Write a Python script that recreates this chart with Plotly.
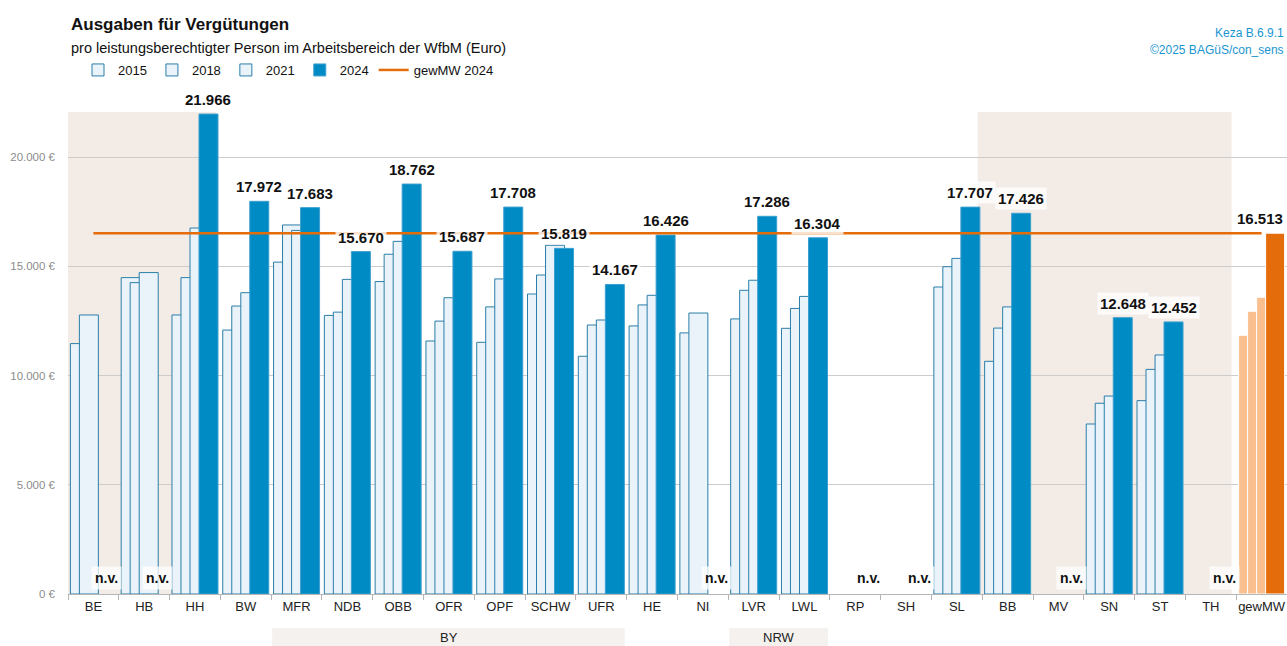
import plotly.graph_objects as go

categories = ["BE", "HB", "HH", "BW", "MFR", "NDB", "OBB", "OFR", "OPF", "SCHW", "UFR", "HE",
              "NI", "LVR", "LWL", "RP", "SH", "SL", "BB", "MV", "SN", "ST", "TH", "gewMW"]
years = ["2015", "2018", "2021", "2024"]
v2015 = [11460, 14480, 12770, 12080, 15190, 12750, 14300, 11580, 11520, 13730, 10880, 12270,
         11950, 12590, 12160, None, None, 14050, 10650, None, 7780, 8850, None, 11840]
v2018 = [12770, 14250, 14480, 13180, 16890, 12900, 15550, 12490, 13140, 14600, 12310, 13230,
         12860, 13900, 13070, None, None, 14980, 12170, None, 8730, 10280, None, 12940]
v2021 = [None, 14710, 16750, 13790, 16640, 14400, 16140, 13560, 14420, 15960, 12540, 13670,
         None, 14360, 13620, None, None, 15360, 13140, None, 9060, 10940, None, 13580]
v2024 = [None, None, 21966, 17972, 17683, 15670, 18762, 15687, 17708, 15819, 14167, 16426,
         None, 17286, 16304, None, None, 17707, 17426, None, 12648, 12452, None, 16513]
gewMW_2024 = 16513
mean_name = "gewMW 2024"
shaded_groups = [("BE", "HH"), ("BB", "TH")]
bottom_groups = [("BY", "MFR", "UFR"), ("NRW", "LVR", "LWL")]
y_ticks = [0, 5000, 10000, 15000, 20000]
y_ticktext = ["0 €", "5.000 €", "10.000 €", "15.000 €", "20.000 €"]

FONT = "Liberation Sans, Arial, sans-serif"
W, H = 1287, 646
ML, MR, MT, MB = 68, 0, 112, 52
PW, PH = W - ML - MR, H - MT - MB
YMAX = 22060
CATPX = PW / len(categories)


def px_x(p):
    return (p - ML) / PW


def px_y(p):
    return (H - MB - p) / PH


def fmt(v):
    return f"{v:,}".replace(",", ".")


PAST_FILL = "#eaf3f9"
PAST_LINE = "#2b7ea8"
CUR_FILL = "#008bc4"
CUR_LINE = "#3d9fcf"
OR_LIGHT = "#f9bf8f"
OR_DARK = "#e46c0a"

offsets = [-0.453, -0.276, -0.098, 0.079]
bw = 0.374
series = [v2015, v2018, v2021, v2024]

fig = go.Figure()
for k, (yr, vals) in enumerate(zip(years, series)):
    is_cur = k == 3
    fills, lines = [], []
    for c in categories:
        if c == "gewMW":
            fills.append(OR_DARK if is_cur else OR_LIGHT)
            lines.append("#ffffff")
        else:
            fills.append(CUR_FILL if is_cur else PAST_FILL)
            lines.append(CUR_LINE if is_cur else PAST_LINE)
    fig.add_trace(go.Bar(
        x=categories, y=vals, name=yr, offset=offsets[k], width=bw,
        marker=dict(color=fills, line=dict(color=lines, width=1)),
        hoverinfo="x+y",
    ))

fig.add_trace(go.Scatter(
    x=categories, y=[gewMW_2024] * len(categories), mode="lines", name=mean_name,
    line=dict(color=OR_DARK, width=2.5),
))

shift24 = (offsets[3] + bw / 2) * CATPX
annotations = []
for i, (c, v) in enumerate(zip(categories, v2024)):
    last = i == len(categories) - 1
    if v is not None:
        annotations.append(dict(
            x=c, y=v, xref="x", yref="y", text=f"<b>{fmt(v)}</b>", showarrow=False,
            xshift=((offsets[3] + bw) * CATPX + 1) if last else shift24,
            xanchor="right" if last else "center",
            yshift=3, yanchor="bottom",
            font=dict(family=FONT, size=15, color="#111111"),
            bgcolor="rgba(255,255,255,0.8)", borderpad=2,
        ))
    else:
        annotations.append(dict(
            x=c, y=0, xref="x", yref="y", text="<b>n.v.</b>", showarrow=False,
            xshift=shift24, yshift=4, yanchor="bottom",
            font=dict(family=FONT, size=14, color="#111111"),
            bgcolor="rgba(255,255,255,0.75)", borderpad=3,
        ))

shapes = []
for a, b in shaded_groups:
    i0, i1 = categories.index(a), categories.index(b)
    shapes.append(dict(
        type="rect", xref="x", yref="y", x0=max(-0.5, i0 - 0.59), x1=i1 + 0.41,
        y0=0, y1=YMAX, fillcolor="#f3ece6", line=dict(width=0), layer="below",
    ))
for name, a, b in bottom_groups:
    i0, i1 = categories.index(a), categories.index(b)
    shapes.append(dict(
        type="rect", xref="x", yref="paper", x0=i0 - 0.48, x1=i1 + 0.46,
        y0=px_y(H + 2), y1=px_y(628), fillcolor="#f4f1ee", line=dict(width=0), layer="below",
    ))
    annotations.append(dict(
        x=(i0 + i1) / 2, y=px_y(637), xref="x", yref="paper", text=name, showarrow=False,
        font=dict(family=FONT, size=13, color="#222222"), yanchor="middle",
    ))

annotations += [
    dict(x=px_x(69), y=px_y(25), xref="paper", yref="paper", xanchor="left", yanchor="middle",
         text="<b>Ausgaben für Vergütungen</b>", showarrow=False,
         font=dict(family=FONT, size=17, color="#111111")),
    dict(x=px_x(69), y=px_y(48), xref="paper", yref="paper", xanchor="left", yanchor="middle",
         text="pro leistungsberechtigter Person im Arbeitsbereich der WfbM (Euro)", showarrow=False,
         font=dict(family=FONT, size=14.5, color="#111111")),
    dict(x=px_x(1286), y=px_y(33), xref="paper", yref="paper", xanchor="right", yanchor="middle",
         text="Keza B.6.9.1", showarrow=False,
         font=dict(family=FONT, size=12, color="#1b95d0")),
    dict(x=px_x(1286), y=px_y(50), xref="paper", yref="paper", xanchor="right", yanchor="middle",
         text="©2025 BAGüS/con_sens", showarrow=False,
         font=dict(family=FONT, size=12, color="#1b95d0")),
]

fig.update_layout(
    width=W, height=H,
    margin=dict(l=ML, r=MR, t=MT, b=MB, autoexpand=False),
    paper_bgcolor="white", plot_bgcolor="white",
    barmode="overlay",
    font=dict(family=FONT, size=13, color="#111111"),
    showlegend=True,
    legend=dict(orientation="h", x=px_x(78), y=px_y(70), xanchor="left", yanchor="middle",
                font=dict(family=FONT, size=13, color="#111111"),
                bgcolor="rgba(0,0,0,0)", itemwidth=30, tracegroupgap=0,
                traceorder="normal"),
    xaxis=dict(type="category", range=[-0.5, len(categories) - 0.5], showgrid=False,
               showline=True, linecolor="#b5b5b5", linewidth=1, tickangle=0,
               ticks="outside", tickson="boundaries", ticklen=5, tickcolor="#b5b5b5",
               tickfont=dict(family=FONT, size=13, color="#222222"), fixedrange=True),
    yaxis=dict(range=[0, YMAX], tickvals=y_ticks, ticktext=y_ticktext,
               showgrid=True, gridcolor="#cccccc", gridwidth=1, zeroline=False,
               showline=False, ticks="", ticklabelstandoff=12,
               tickfont=dict(family=FONT, size=11.5, color="#8c8c8c"), fixedrange=True),
    shapes=shapes,
    annotations=annotations,
)

fig.write_html(
    "out.html",
    config={"displayModeBar": False},
    post_script="document.body.style.margin='0';document.body.style.overflow='hidden';",
)
